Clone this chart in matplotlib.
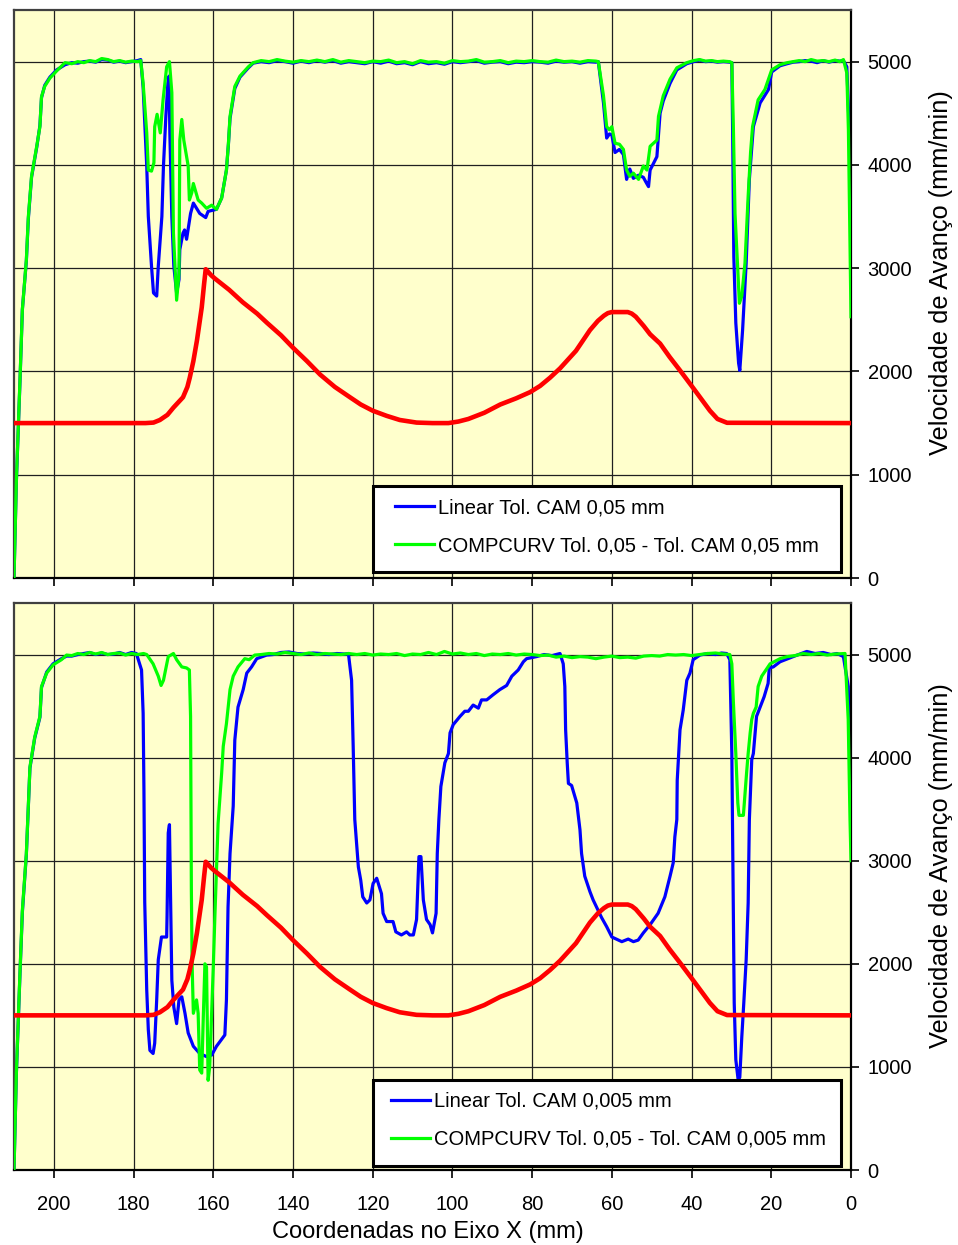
import numpy as np
import matplotlib
matplotlib.use("Agg")
import matplotlib.pyplot as plt
from matplotlib.patches import Rectangle

plt.rcParams['font.family'] = ['Liberation Sans', 'DejaVu Sans']

# ---------------------------------------------------------------------------
# Data: (X coordinate [mm], feed rate [mm/min])
# ---------------------------------------------------------------------------

# Geometry profile drawn in red (same in both panels)
profile = [
    (210, 1500), (177, 1500), (175, 1505), (173.4, 1530), (171.5, 1580), (170, 1650),
    (167.6, 1750), (166.5, 1850), (165.9, 1940), (165, 2100), (164.1, 2300),
    (162.9, 2620), (162.3, 2850), (161.9, 2990), (160.5, 2930), (159.6, 2900),
    (156, 2790), (152.6, 2670), (149, 2560), (146.5, 2470), (143, 2350), (140, 2230),
    (136.5, 2100), (133.2, 1970), (129.5, 1850), (125.7, 1750), (123, 1680),
    (120, 1620), (116.5, 1570), (113.2, 1530), (109, 1505), (105, 1500), (101, 1500),
    (98.5, 1515), (96, 1540), (92, 1600), (88, 1680), (84, 1740), (80.5, 1800),
    (78, 1860), (75.5, 1940), (73, 2030), (69, 2200), (65.5, 2400), (63.5, 2490),
    (62, 2540), (61, 2565), (60, 2575), (56, 2575), (55, 2560), (54, 2530),
    (52, 2440), (50.4, 2360), (47.9, 2270), (45.5, 2140), (42.9, 2010), (39.6, 1840),
    (37.5, 1730), (35.4, 1620), (33.5, 1540), (31.1, 1503), (0, 1500),
]

# Upper panel: Linear, Tol. CAM 0,05 mm
top_linear = [
    (210, 0), (209.4, 940), (208.5, 1900), (207.9, 2600), (206.9, 3070), (206.4, 3480),
    (205.6, 3880), (204.3, 4170), (203.5, 4380), (203.1, 4650), (202.3, 4770),
    (201.0, 4850), (199.3, 4920), (197.2, 4970), (195.5, 4990), (194, 4985),
    (192.5, 5000), (191, 5005), (189.5, 4995), (188, 5020), (186.5, 5015), (185, 4995),
    (183.5, 5005), (182, 4990), (180.5, 5000), (179, 5010), (178.2, 5020),
    (177.6, 4750), (176.7, 3990), (176.3, 3500), (175.5, 3020), (175.0, 2760),
    (174.2, 2730), (173.8, 3020), (172.9, 3500), (172.5, 3990), (171.9, 4470),
    (171.4, 4790), (171.1, 4860), (170.9, 4310), (170.4, 3500), (169.9, 3020),
    (169.2, 2760), (168.6, 2890), (168.4, 3180), (167.6, 3340), (167.2, 3370),
    (166.7, 3280), (165.7, 3530), (165.0, 3630), (163.4, 3530), (161.9, 3490),
    (161.3, 3550), (159.2, 3570), (157.9, 3680), (156.7, 3950), (156.2, 4200),
    (155.8, 4450), (154.6, 4740), (153.3, 4850), (151.2, 4940), (150.0, 4985),
    (148, 5000), (146, 4990), (144, 5010), (142, 5000), (140, 4985), (138, 5005),
    (136, 4990), (134, 5010), (132, 4995), (130, 5010), (128, 4985), (126, 5000),
    (124, 4990), (122, 4980), (120, 5000), (118, 4985), (116, 5005), (114, 4980),
    (112, 4990), (110, 4970), (108, 5000), (106, 4980), (104, 4990), (102, 4975),
    (100, 5000), (98, 4990), (96, 5000), (94, 5010), (92, 4985), (90, 4995),
    (88, 5000), (86, 4980), (84, 4995), (82, 4990), (80, 5000), (78, 4995),
    (76, 4985), (74, 5005), (72, 4995), (70, 5000), (68, 4985), (66, 5000),
    (64, 4995), (63.4, 5000), (62.1, 4600), (61.3, 4260), (60.6, 4300), (60.0, 4290),
    (59.2, 4120), (58.1, 4150), (57.1, 4100), (56.3, 3860), (55.5, 3960), (54.6, 3870),
    (53.3, 3900), (52.1, 3880), (51.4, 3830), (50.8, 3790), (50.4, 3950), (48.7, 4080),
    (47.9, 4500), (47.1, 4620), (45.4, 4790), (43.7, 4920), (41.2, 4980),
    (39.5, 5000), (38, 5015), (36.5, 5000), (35, 5005), (33.5, 4995), (32, 5000),
    (30.5, 4995), (29.9, 4990), (29.7, 4340), (29.4, 3110), (28.9, 2470), (28.2, 2080),
    (27.9, 2010), (27.2, 2400), (26.3, 3050), (25.5, 3860), (24.5, 4370), (22.8, 4600),
    (20.7, 4730), (19.9, 4900), (17.8, 4960), (16, 4980), (14.5, 4995), (13, 5000),
    (11.5, 5010), (10, 5005), (8.5, 4990), (7, 5010), (5.5, 4995), (4, 5010),
    (2.8, 5005), (1.9, 5010), (1.05, 4950), (0.6, 4500), (0.2, 4020), (0, 3160),
]

# Upper panel: COMPCURV Tol. 0,05 - Tol. CAM 0,05 mm
top_compcurv = [
    (210, 0), (209.4, 950), (208.5, 1920), (207.9, 2600), (206.9, 3080), (206.4, 3500),
    (205.6, 3890), (204.3, 4180), (203.5, 4370), (203.1, 4660), (202.3, 4760),
    (201.0, 4840), (199.3, 4910), (197.2, 4990), (195.5, 4980), (194.0, 5000),
    (192.5, 4990), (191.0, 5010), (189.5, 5000), (188.0, 5030), (186.5, 5020),
    (185.0, 5000), (183.5, 5010), (182.0, 4995), (180.5, 5005), (179.0, 5000),
    (178.2, 5010), (177.6, 4790), (176.7, 4310), (176.3, 3950), (175.5, 3940),
    (174.9, 4020), (174.7, 4370), (174.1, 4490), (173.3, 4310), (172.6, 4630),
    (171.7, 4950), (171.0, 5000), (170.4, 4700), (170.0, 3340), (169.2, 2690),
    (168.6, 2950), (168.4, 4240), (167.9, 4440), (167.4, 4240), (166.3, 3990),
    (166.0, 3660), (165.4, 3730), (165.0, 3820), (163.8, 3660), (162.9, 3630),
    (161.7, 3580), (160.4, 3610), (159.2, 3570), (157.9, 3680), (156.7, 3950),
    (156.2, 4210), (155.8, 4470), (154.6, 4760), (153.3, 4860), (151.2, 4950),
    (150.0, 4990),
    (148, 5010), (146, 5000), (144, 5020), (142, 5005), (140, 4995), (138, 5010),
    (136, 5000), (134, 5015), (132, 5000), (130, 5020), (128, 4995), (126, 5010),
    (124, 5000), (122, 4990), (120, 5005), (118, 5000), (116, 5015), (114, 4990),
    (112, 5000), (110, 4980), (108, 5010), (106, 4995), (104, 5000), (102, 4985),
    (100, 5010), (98, 5000), (96, 5005), (94, 5020), (92, 4995), (90, 5000),
    (88, 5010), (86, 4990), (84, 5005), (82, 5000), (80, 5010), (78, 5000),
    (76, 4995), (74, 5015), (72, 5000), (70, 5005), (68, 4995), (66, 5010),
    (64, 5005), (63.4, 5000), (62.1, 4670), (61.3, 4370), (60.6, 4340), (60.0, 4370),
    (59.2, 4210), (58.1, 4200), (57.1, 4150), (56.3, 3950), (55.5, 3890), (54.6, 3920),
    (53.3, 3860), (52.1, 3990), (51.2, 3950), (50.4, 4180), (48.7, 4240), (48.3, 4470),
    (47.1, 4670), (45.4, 4830), (43.7, 4940), (41.2, 4990), (39.5, 5010), (38, 5020),
    (36.5, 5005), (35, 5010), (33.5, 5000), (32, 5005), (30.5, 5000), (29.9, 4990),
    (29.5, 4340), (29.1, 3530), (28.5, 3050), (28.0, 2660), (27.4, 2730), (26.6, 3050),
    (25.8, 3700), (25.2, 4120), (24.7, 4370), (23.3, 4630), (21.6, 4730), (19.9, 4920),
    (17.8, 4970), (16, 4990), (14.5, 5000), (13, 5010), (11.5, 5000), (10, 5020),
    (8.5, 5005), (7, 5010), (5.5, 5000), (4, 5015), (2.8, 5000), (1.9, 5020),
    (1.05, 4890), (0.65, 4340), (0.2, 3050), (0, 2530),
]

# Lower panel: Linear, Tol. CAM 0,005 mm
bot_linear = [
    (210, 0), (209.4, 940), (208.5, 1900), (207.9, 2500), (206.9, 3060), (206.0, 3900),
    (204.8, 4190), (203.5, 4390), (203.1, 4680), (201.8, 4830), (200.2, 4910),
    (198.1, 4960), (196.8, 4985), (195.5, 4985), (194, 5000), (192.5, 5010),
    (191, 5020), (189.5, 5000), (188, 5015), (186.5, 5000), (185, 5005), (183.5, 5020),
    (182, 5000), (180.5, 5020), (179.3, 5010), (178.0, 4850), (177.6, 4430),
    (177.4, 3690), (177.2, 2600), (176.7, 1750), (176.3, 1360), (175.9, 1160),
    (175.1, 1130), (174.7, 1230), (174.2, 1650), (173.8, 2040), (173.0, 2260),
    (171.7, 2260), (171.6, 2460), (171.3, 3270), (171.0, 3350), (170.7, 2620),
    (170.4, 1840), (169.9, 1580), (169.2, 1420), (168.6, 1650), (167.9, 1680),
    (167.1, 1520), (166.3, 1330), (165.0, 1200), (163.4, 1130), (161.7, 1100),
    (160.4, 1115), (159.2, 1200), (157.1, 1310), (156.7, 1650), (156.3, 2550),
    (155.8, 3070), (155.0, 3530), (154.6, 4170), (153.8, 4490), (152.5, 4660),
    (151.6, 4820), (150.4, 4880), (149.1, 4960), (146.6, 4995), (145, 5000),
    (143, 5020), (141, 5025), (139, 5010), (137, 5005), (135, 5015), (133, 5010),
    (131, 5000), (129, 5010), (127, 5005), (126.1, 5010), (125.3, 4750), (124.9, 4110),
    (124.5, 3400), (124.0, 3140), (123.6, 2940), (123.0, 2810), (122.5, 2650),
    (121.5, 2590), (120.7, 2620), (119.9, 2780), (119.0, 2830), (117.8, 2680),
    (117.4, 2490), (116.5, 2410), (114.9, 2410), (114.2, 2310), (112.8, 2280),
    (111.5, 2310), (110.7, 2280), (109.8, 2280), (109.0, 2430), (108.4, 3040),
    (107.9, 3040), (107.3, 2620), (106.5, 2430), (105.6, 2380), (105.0, 2300),
    (104.1, 2490), (103.8, 3070), (103.4, 3400), (102.9, 3720), (101.9, 3950),
    (101.0, 4040), (100.6, 4240), (99.8, 4320), (98.1, 4400), (96.9, 4450),
    (96.0, 4450), (94.8, 4510), (93.5, 4480), (92.7, 4560), (91.4, 4560), (89.8, 4610),
    (88.1, 4660), (86.4, 4700), (85.1, 4790), (83.5, 4850), (82.2, 4930), (81.4, 4960),
    (78.9, 4980), (77, 5000), (75, 4990), (73.0, 5010), (72.2, 4910), (71.8, 4690),
    (71.6, 4270), (71.2, 3950), (70.9, 3750), (70.1, 3730), (68.8, 3560), (68.0, 3300),
    (67.6, 3070), (66.8, 2850), (65.5, 2700), (64.7, 2620), (62.6, 2450), (61.3, 2360),
    (60.0, 2260), (57.5, 2215), (55.9, 2240), (54.6, 2215), (53.4, 2230), (52.1, 2300),
    (50.4, 2380), (48.4, 2490), (46.7, 2650), (45.4, 2850), (44.6, 2980), (44.2, 3230),
    (43.7, 3400), (43.6, 3780), (42.9, 4270), (42.1, 4460), (41.2, 4750), (40.4, 4820),
    (39.6, 4950), (37.9, 4995), (36, 5010), (34, 5000), (32.5, 5015), (31.2, 5010),
    (30.4, 4950), (29.9, 4040), (29.5, 2430), (29.3, 1620), (28.9, 1070), (28.3, 870),
    (27.9, 900), (27.4, 1290), (26.9, 1620), (26.3, 2040), (25.8, 2590), (25.5, 3400),
    (24.9, 3980), (24.5, 4040), (23.7, 4400), (22.8, 4490), (21.8, 4590), (20.8, 4720),
    (20.5, 4870), (19.5, 4880), (17.8, 4930), (14.5, 4980), (11.1, 5030), (9, 5010),
    (7, 5020), (5, 5000), (3.5, 5010), (1.9, 4980), (0.7, 4690), (0, 3400),
]

# Lower panel: COMPCURV Tol. 0,05 - Tol. CAM 0,005 mm
bot_compcurv = [
    (210, 0), (209.4, 950), (208.5, 1920), (207.9, 2520), (206.9, 3070), (206.0, 3910),
    (204.8, 4200), (203.5, 4400), (203.1, 4690), (201.8, 4820), (200.2, 4900),
    (198.1, 4950), (196.8, 4995), (195.5, 4990), (194, 5010), (192.5, 5000),
    (191, 5020), (189.5, 5005), (188, 5020), (186.5, 5000), (185, 5010), (183.5, 5015),
    (182, 4995), (180.5, 5010), (179, 5000), (177.5, 5010), (176.7, 5000),
    (175.1, 4910), (173.8, 4790), (173.1, 4700), (172.5, 4750), (171.3, 4980),
    (170.0, 5010), (169.2, 4950), (167.9, 4880), (166.7, 4870), (166.0, 4850),
    (165.7, 4400), (165.5, 2720), (165.3, 1970), (165.0, 1520), (164.2, 1650),
    (163.8, 1520), (163.4, 970), (162.9, 940), (162.5, 1490), (162.1, 2000),
    (161.7, 1970), (161.3, 870), (160.9, 1000), (160.0, 1970), (159.6, 2460),
    (159.2, 2900), (158.8, 3360), (157.9, 3850), (157.5, 4110), (156.7, 4330),
    (155.8, 4660), (155.0, 4790), (153.8, 4880), (152.1, 4960), (151.0, 4950),
    (149.6, 4995), (148, 5000), (146, 5010), (144, 5005), (142, 5020), (140, 5010),
    (138, 5000), (136, 5015), (134, 5000), (132, 5010), (130, 5005), (128, 5000),
    (126, 5010), (124, 5000), (122, 5010), (120, 4995), (118, 5005), (116, 5000),
    (114, 5010), (112, 4990), (110, 5005), (108, 5000), (106, 5020), (104, 5000),
    (102, 5030), (100, 5005), (98, 5015), (96, 5000), (94, 5010), (92, 4990),
    (90, 5005), (88, 5000), (86, 5010), (84, 4995), (82, 5005), (80, 5000),
    (78, 4990), (76, 4995), (74, 4975), (72, 4985), (70, 4970), (68, 4980),
    (66, 4975), (64, 4960), (62, 4975), (60, 4985), (58, 4970), (56, 4975),
    (54, 4965), (52, 4985), (50, 4990), (48, 4985), (46, 5000), (44, 4995),
    (42, 5000), (40, 4990), (38, 5000), (36, 5010), (34, 5015), (32, 5005),
    (30.4, 5000), (29.9, 4910), (29.5, 4530), (28.9, 4040), (28.4, 3560), (28.1, 3440),
    (27.0, 3440), (26.6, 3650), (26.2, 3850), (25.8, 4040), (25.3, 4240), (24.9, 4370),
    (24.5, 4430), (23.8, 4490), (23.3, 4690), (22.4, 4790), (20.3, 4910), (17.8, 4960),
    (16, 4980), (14, 4990), (12, 5010), (10, 5000), (8, 5010), (6, 4995), (4, 5005),
    (1.5, 5010), (0.7, 4370), (0.25, 3400), (0, 3000),
]

x_ticks = [0, 20, 40, 60, 80, 100, 120, 140, 160, 180, 200]
y_ticks = [0, 1000, 2000, 3000, 4000, 5000]

top_labels = ["Linear Tol. CAM 0,05 mm",
              "COMPCURV Tol. 0,05 - Tol. CAM 0,05 mm"]
bot_labels = ["Linear Tol. CAM 0,005 mm",
              "COMPCURV Tol. 0,05 - Tol. CAM 0,005 mm"]

x_label = "Coordenadas no Eixo X (mm)"
y_label = "Velocidade de Avanço (mm/min)"

# ---------------------------------------------------------------------------
BLUE, GREEN, RED = "#0000FF", "#00FF00", "#FF0000"
PLOT_BG = "#FFFFCC"
FS_TICK = 14.5
FS_XLABEL = 17
FS_YLABEL = 18.3

W, H = 958, 1245
fig = plt.figure(figsize=(W / 100, H / 100), dpi=100)
fig.patch.set_facecolor("white")


def px_rect(left, top, right, bottom):
    return [left / W, 1 - bottom / H, (right - left) / W, (bottom - top) / H]


ax_top = fig.add_axes(px_rect(14, 10, 851, 578))
ax_bot = fig.add_axes(px_rect(14, 603, 851, 1170))


def style_axes(ax, show_xlabels):
    ax.set_facecolor(PLOT_BG)
    ax.set_xlim(210, 0)
    ax.set_ylim(0, 5500)
    ax.set_xticks(x_ticks)
    ax.set_yticks(y_ticks)
    ax.yaxis.tick_right()
    ax.tick_params(axis="y", direction="out", length=6, width=1.2, pad=6,
                   labelsize=FS_TICK, left=False, right=True, colors="black")
    ax.tick_params(axis="x", direction="out", length=6, width=1.2, pad=12,
                   labelsize=FS_TICK, labelbottom=show_xlabels, colors="black")
    ax.grid(True, color="#202020", lw=0.9)
    ax.set_axisbelow(True)
    for side in ("left", "top"):
        ax.spines[side].set_color("#404040")
        ax.spines[side].set_linewidth(1.6)
    for side in ("right", "bottom"):
        ax.spines[side].set_color("black")
        ax.spines[side].set_linewidth(1.6)
    ax.yaxis.set_label_position("right")
    ax.set_ylabel(y_label, fontsize=FS_YLABEL, rotation=90, ha="center", va="center")
    ax.yaxis.set_label_coords(1.108, 0.537)


def draw_panel(ax, linear, compcurv, labels, box, anchor):
    lx, ly = np.array(linear).T
    cx, cy = np.array(compcurv).T
    px, py = np.array(profile).T
    h1, = ax.plot(lx, ly, color=BLUE, lw=2.3, zorder=2, solid_joinstyle="round")
    h2, = ax.plot(cx, cy, color=GREEN, lw=2.3, zorder=3, solid_joinstyle="round")
    ax.plot(px, py, color=RED, lw=3.3, zorder=4, solid_joinstyle="round")
    frame = Rectangle((box[0], box[1]), box[2], box[3], transform=ax.transAxes,
                      facecolor="white", edgecolor="black", lw=2.2, zorder=5)
    ax.add_patch(frame)
    leg = ax.legend([h1, h2], labels, loc="center left", bbox_to_anchor=anchor,
                    frameon=False, fontsize=FS_TICK, handlelength=1.95,
                    handletextpad=0.2, labelspacing=0.95, borderpad=0,
                    borderaxespad=0)
    leg.set_zorder(6)


style_axes(ax_top, False)
style_axes(ax_bot, True)

draw_panel(ax_top, top_linear, top_compcurv, top_labels,
           box=(0.4289, 0.0106, 0.5591, 0.1514), anchor=(0.4552, 0.0903))
draw_panel(ax_bot, bot_linear, bot_compcurv, bot_labels,
           box=(0.4289, 0.0071, 0.5591, 0.1517), anchor=(0.4504, 0.0877))

ax_bot.set_xlabel(x_label, fontsize=FS_XLABEL, va="center")
ax_bot.xaxis.set_label_coords(0.495, -0.109)

fig.savefig("out.png", dpi=100)
